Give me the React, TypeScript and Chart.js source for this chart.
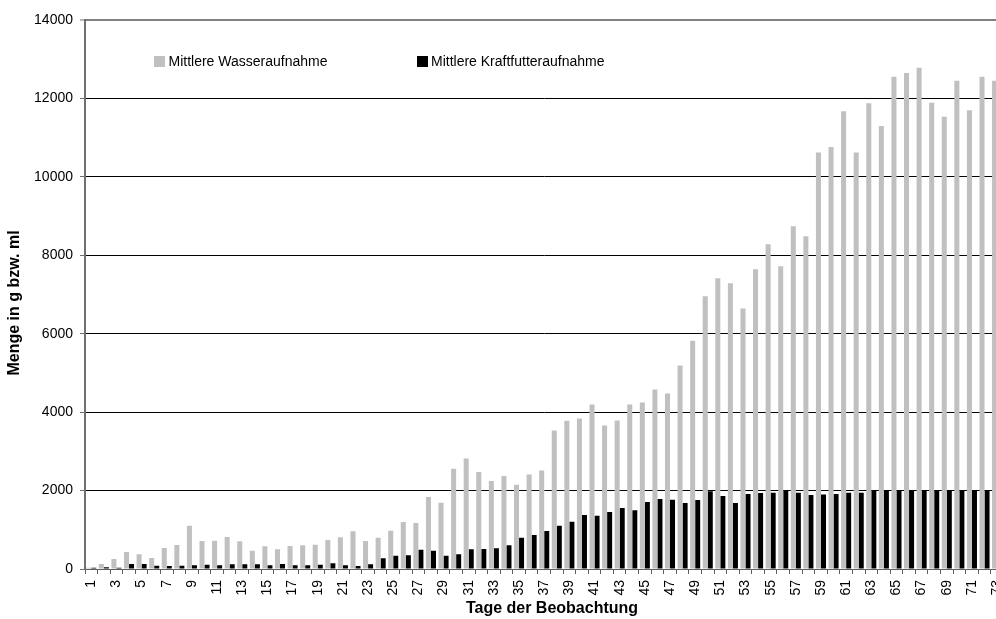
import React, { useEffect, useRef } from "react";
import { Chart, registerables } from "chart.js";

Chart.register(...registerables);

const days: string[] = Array.from({ length: 73 }, (_, i) => String(i + 1));

const waterIntake: number[] = [
  30, 127, 255, 433, 374, 280, 535, 612, 1104, 714,
  722, 815, 705, 467, 578, 501, 586, 603, 620, 739,
  807, 960, 714, 799, 977, 1198, 1172, 1835, 1691, 2557,
  2820, 2472, 2243, 2370, 2149, 2413, 2515, 3534, 3780, 3840,
  4197, 3662, 3789, 4197, 4248, 4579, 4477, 5190, 5819, 6957,
  7416, 7288, 6643, 7645, 8282, 7722, 8741, 8486, 10619, 10760,
  11670, 10619, 11880, 11300, 12550, 12650, 12780, 11890, 11530, 12450,
  11700, 12550, 12450,
];

const feedIntake: number[] = [
  33, 42, 34, 127, 127, 85, 76, 85, 93, 110,
  93, 119, 119, 119, 93, 127, 93, 93, 110, 144,
  93, 76, 119, 272, 340, 348, 493, 467, 340, 374,
  501, 510, 527, 603, 799, 866, 968, 1104, 1206, 1376,
  1359, 1453, 1555, 1495, 1707, 1784, 1767, 1682, 1758, 1980,
  1860, 1682, 1911, 1937, 1945, 2013, 1945, 1886, 1903, 1911,
  1945, 1945, 1988, 2005, 1996, 2005, 2005, 2005, 2005, 2005,
  2005, 2013, 2010,
];

const seriesNames: string[] = ["Mittlere Wasseraufnahme", "Mittlere Kraftfutteraufnahme"];
const seriesColors: string[] = ["#c0c0c0", "#000000"];
const xTitle = "Tage der Beobachtung";
const yTitle = "Menge in g bzw. ml";

const FONT = "'Liberation Sans', Arial, sans-serif";

const overlayPlugin = {
  id: "overlay",
  afterDraw(chart: any) {
    const ctx = chart.ctx as CanvasRenderingContext2D;
    ctx.save();
    // legend
    ctx.font = `14px ${FONT}`;
    ctx.textBaseline = "alphabetic";
    ctx.textAlign = "left";
    const legendPos = [
      { bx: 154, tx: 168.5 },
      { bx: 417, tx: 431 },
    ];
    seriesNames.forEach((name, i) => {
      ctx.fillStyle = seriesColors[i];
      ctx.fillRect(legendPos[i].bx, 56, 11, 11);
      ctx.fillStyle = "#000";
      ctx.fillText(name, legendPos[i].tx, 65.5);
    });
    // axis titles
    ctx.font = `bold 16px ${FONT}`;
    ctx.fillStyle = "#000";
    ctx.textAlign = "center";
    ctx.textBaseline = "middle";
    ctx.fillText(xTitle, 552, 609);
    ctx.translate(15, 303);
    ctx.rotate(-Math.PI / 2);
    ctx.fillText(yTitle, 0, 0);
    ctx.restore();
  },
};

export default function App() {
  const canvasRef = useRef<HTMLCanvasElement | null>(null);

  useEffect(() => {
    if (!canvasRef.current) return;
    const chart = new Chart(canvasRef.current, {
      type: "bar",
      data: {
        labels: days,
        datasets: [
          {
            label: seriesNames[0],
            data: waterIntake,
            backgroundColor: seriesColors[0],
            borderWidth: 0,
            categoryPercentage: 0.8,
            barPercentage: 1.0,
          },
          {
            label: seriesNames[1],
            data: feedIntake,
            backgroundColor: seriesColors[1],
            borderWidth: 0,
            categoryPercentage: 0.8,
            barPercentage: 1.0,
          },
        ],
      },
      options: {
        responsive: false,
        animation: false,
        devicePixelRatio: 1,
        layout: { padding: { top: 20, right: 14, bottom: 0, left: 0 } },
        plugins: {
          legend: { display: false },
          tooltip: { enabled: false },
        },
        scales: {
          x: {
            offset: true,
            afterFit: (scale: any) => {
              scale.height = 50;
            },
            grid: {
              display: true,
              offset: true,
              drawOnChartArea: false,
              drawTicks: true,
              tickLength: 5,
              color: "#606060",
              tickColor: "#606060",
            },
            border: { display: true, color: "#606060", width: 1 },
            ticks: {
              autoSkip: false,
              maxRotation: 90,
              minRotation: 90,
              padding: 6,
              color: "#000",
              font: { family: FONT, size: 14 },
              callback: (_v: any, idx: number) => (idx % 2 === 0 ? days[idx] : ""),
            },
          },
          y: {
            min: 0,
            max: 14000,
            afterFit: (scale: any) => {
              scale.width = 85;
            },
            grid: {
              color: (c: any) => (c.tick && c.tick.value === 14000 ? "#808080" : "#000000"),
              lineWidth: (c: any) => (c.tick && c.tick.value === 14000 ? 2 : 1),
              drawTicks: true,
              tickLength: 5,
              tickColor: "#707070",
              tickWidth: 1,
            },
            border: { display: true, color: "#707070", width: 2 },
            ticks: {
              stepSize: 2000,
              padding: 7,
              color: "#000",
              font: { family: FONT, size: 14 },
              callback: (v: any) => String(v),
            },
          },
        },
      },
      plugins: [overlayPlugin],
    });
    return () => chart.destroy();
  }, []);

  return (
    <div
      style={{
        position: "fixed",
        left: 0,
        top: 0,
        width: 996,
        height: 619,
        overflow: "hidden",
        background: "#fff",
      }}
    >
      <canvas ref={canvasRef} width={1020} height={619} style={{ width: 1020, height: 619, display: "block" }} />
    </div>
  );
}
